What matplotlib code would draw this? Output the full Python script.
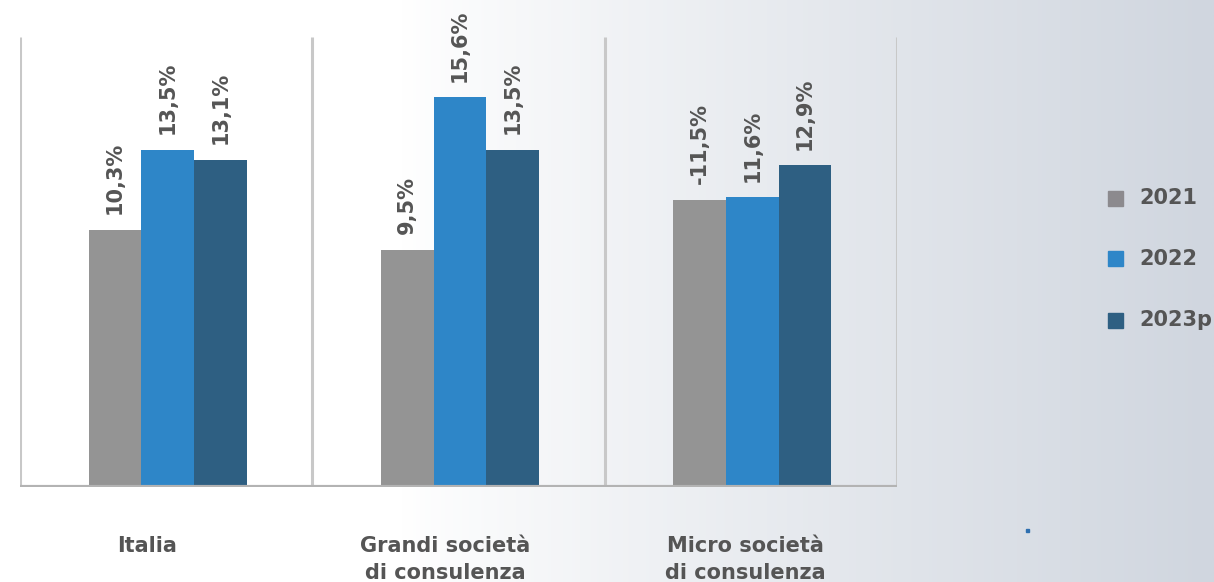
import matplotlib.pyplot as plt
import numpy as np
from matplotlib.colors import LinearSegmentedColormap

categorie = ["Italia", "Grandi società\ndi consulenza", "Micro società\ndi consulenza"]
anni = ["2021", "2022", "2023p"]
valori_2021 = [10.3, 9.5, -11.5]
valori_2022 = [13.5, 15.6, 11.6]
valori_2023 = [13.1, 13.5, 12.9]
serie = [valori_2021, valori_2022, valori_2023]
colori = ["#949494", "#2e86c8", "#2e5f82"]
colori_legenda = ["#8c8a8e", "#2e86c8", "#2e5f82"]

testo = "#555555"

fig = plt.figure(figsize=(12.14, 5.82), dpi=100)

# Sfondo sfumato
bg = fig.add_axes([0, 0, 1, 1], zorder=-1)
grad = np.linspace(0, 1, 600)
grad = np.clip((grad - 0.33) / 0.67, 0, 1) ** 0.9
cmap = LinearSegmentedColormap.from_list("bg", ["#ffffff", "#d0d6df"])
bg.imshow(grad[np.newaxis, :], aspect="auto", cmap=cmap, extent=[0, 1, 0, 1])
bg.axis("off")

ax = fig.add_axes([20 / 1214, 95 / 582, 877 / 1214, 450 / 582])
ax.patch.set_alpha(0)

x = np.arange(len(categorie))
w = 0.18
for i, (vals, col) in enumerate(zip(serie, colori)):
    pos = x + (i - 1) * w + 0.005
    alt = np.abs(vals)
    ax.bar(pos, alt, w, color=col, zorder=2)
    for p, h, v in zip(pos, alt, vals):
        ax.text(p, h + 0.6, f"{v:.1f}%".replace(".", ","), rotation=90,
                ha="center", va="bottom", fontsize=15, fontweight="bold",
                color=testo)

for xv in [-0.5, 0.5, 1.5, 2.5]:
    ax.plot([xv, xv], [0, 18], color="#c8c8c8", lw=2.2, zorder=1,
            solid_capstyle="butt")
ax.plot([-0.505, 2.5], [0, 0], color="#b3b3b3", lw=3, zorder=3,
        solid_capstyle="round")

ax.set_xlim(-0.5, 2.5)
ax.set_ylim(0, 18)
ax.axis("off")

spost = [-0.065, -0.045, -0.02]
for xi, cat, s in zip(x, categorie, spost):
    ax.text(xi + s, -1.95, cat, ha="center", va="top", fontsize=15,
            fontweight="bold", color=testo, linespacing=1.45)

# Legenda
for j, (anno, col) in enumerate(zip(anni, colori_legenda)):
    yf = 1 - (198 + j * 61) / 582
    fig.patches.append(plt.Rectangle((1108 / 1214, yf - 7.5 / 582), 15 / 1214, 15 / 582,
                                     transform=fig.transFigure, color=col))
    fig.text(1139 / 1214, yf, anno, ha="left", va="center", fontsize=15,
             fontweight="bold", color=testo)

# puntino blu
fig.patches.append(plt.Rectangle((1025.5 / 1214, 1 - 531.5 / 582), 3.5 / 1214, 2.5 / 582,
                                 transform=fig.transFigure, color="#2e6fb0"))

fig.savefig("out.png", dpi=100)
